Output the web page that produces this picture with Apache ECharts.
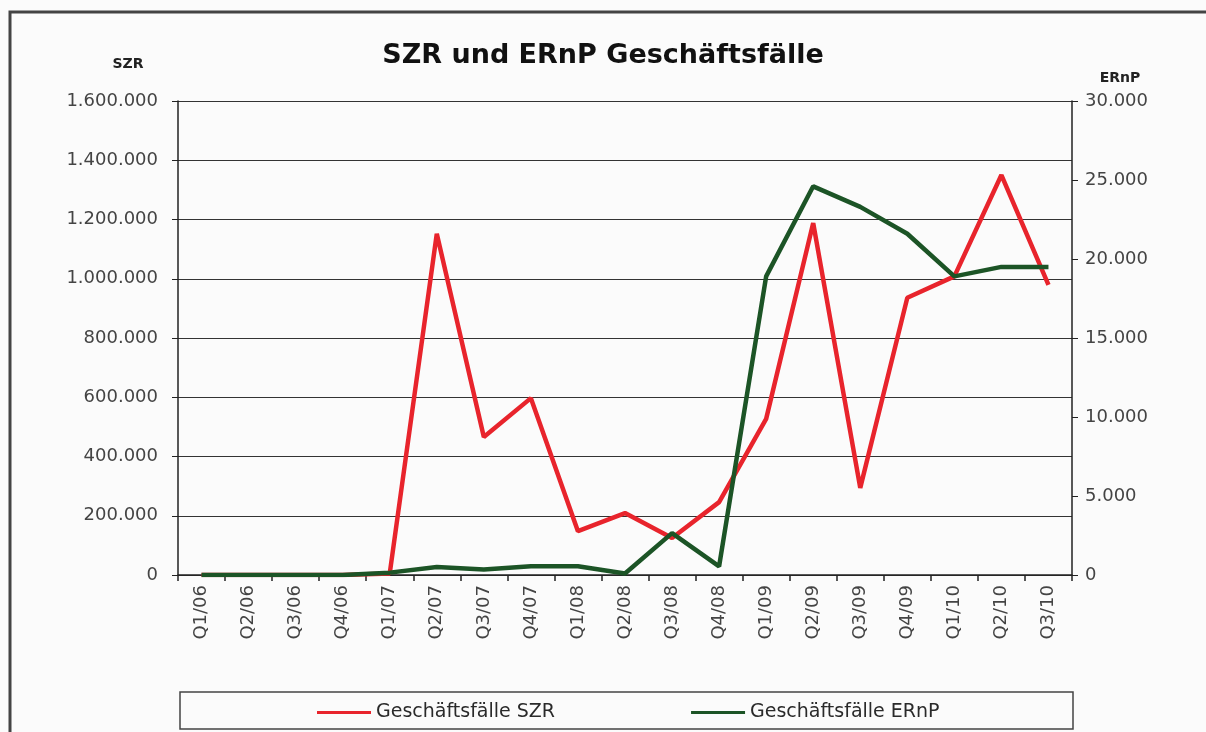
<!DOCTYPE html>
<html>
<head>
<meta charset="utf-8">
<title>SZR und ERnP Geschäftsfälle</title>
<script src="https://cdn.jsdelivr.net/npm/echarts@6/dist/echarts.min.js"></script>
<style>
  html, body { margin: 0; padding: 0; background: #fbfbfb; }
  #chart { width: 1206px; height: 732px; }
</style>
</head>
<body>
<div id="chart"></div>
<script>
// quarters
const categories = [
  "Q1/06", "Q2/06", "Q3/06", "Q4/06",
  "Q1/07", "Q2/07", "Q3/07", "Q4/07",
  "Q1/08", "Q2/08", "Q3/08", "Q4/08",
  "Q1/09", "Q2/09", "Q3/09", "Q4/09",
  "Q1/10", "Q2/10", "Q3/10"
];
// Geschäftsfälle SZR (left axis)
const szrValues = [
  0, 0, 0, 0,
  5000, 1152000, 466000, 597000,
  148000, 209000, 125000, 246000,
  527000, 1188000, 294000, 936000,
  1008000, 1350000, 979000
];
// Geschäftsfälle ERnP (right axis)
const ernpValues = [
  0, 0, 0, 0,
  150, 500, 350, 560,
  560, 100, 2650, 550,
  18900, 24600, 23300, 21600,
  18900, 19500, 19500
];
const szrTicks = { min: 0, max: 1600000, interval: 200000 };
const ernpTicks = { min: 0, max: 30000, interval: 5000 };

const fmt = (v) => String(v).replace(/\B(?=(\d{3})+(?!\d))/g, ".");
const labelFont = "DejaVu Sans, sans-serif";

const chart = echarts.init(document.getElementById("chart"));
chart.setOption({
  backgroundColor: "#fbfbfb",
  animation: false,
  title: {
    text: "SZR und ERnP Geschäftsfälle",
    left: 598,
    top: 37,
    textAlign: "center",
    textStyle: { fontFamily: labelFont, fontSize: 27, fontWeight: "bold", color: "#111" },
  },
  grid: { left: 178, right: 134, top: 101, bottom: 157 },
  legend: {
    data: ["Geschäftsfälle SZR", "Geschäftsfälle ERnP"],
    left: 312,
    top: 698,
    icon: "rect",
    itemWidth: 54,
    itemHeight: 3,
    itemGap: 136,
    itemTextGap: 3,
    textStyle: { fontFamily: labelFont, fontSize: 19, color: "#2a2a2a" },
  },
  xAxis: {
    type: "category",
    data: categories,
    boundaryGap: true,
    axisLine: { lineStyle: { color: "#222", width: 1.5 } },
    axisTick: { show: true, length: 6, lineStyle: { color: "#222", width: 1.5 } },
    axisLabel: {
      rotate: 90,
      margin: 10,
      interval: 0,
      fontFamily: labelFont,
      fontSize: 18,
      color: "#444",
    },
  },
  yAxis: [
    {
      type: "value",
      min: szrTicks.min,
      max: szrTicks.max,
      interval: szrTicks.interval,
      name: "SZR",
      nameLocation: "end",
      nameGap: 30,
      nameTextStyle: {
        fontFamily: labelFont, fontSize: 14, fontWeight: "bold", color: "#222",
        align: "center", padding: [0, 100, 0, 0],
      },
      axisLine: { show: true, lineStyle: { color: "#222", width: 1.5 } },
      axisTick: { show: true, length: 6, lineStyle: { color: "#222" } },
      axisLabel: { formatter: fmt, margin: 20, fontFamily: labelFont, fontSize: 18, color: "#444" },
      splitLine: { show: true, lineStyle: { color: "#333", width: 1.2 } },
    },
    {
      type: "value",
      min: ernpTicks.min,
      max: ernpTicks.max,
      interval: ernpTicks.interval,
      name: "ERnP",
      nameLocation: "end",
      nameGap: 16,
      nameTextStyle: {
        fontFamily: labelFont, fontSize: 14, fontWeight: "bold", color: "#222",
        align: "center", padding: [0, 0, 0, 96],
      },
      axisLine: { show: true, lineStyle: { color: "#222", width: 1.5 } },
      axisTick: { show: true, length: 6, lineStyle: { color: "#222" } },
      axisLabel: { formatter: fmt, margin: 13, fontFamily: labelFont, fontSize: 18, color: "#444" },
      splitLine: { show: false },
    },
  ],
  series: [
    {
      name: "Geschäftsfälle SZR",
      type: "line",
      yAxisIndex: 0,
      data: szrValues,
      showSymbol: false,
      symbol: "none",
      color: "#e8242c",
      lineStyle: { color: "#e8242c", width: 4.5 },
    },
    {
      name: "Geschäftsfälle ERnP",
      type: "line",
      yAxisIndex: 1,
      data: ernpValues,
      showSymbol: false,
      symbol: "none",
      color: "#1c5426",
      lineStyle: { color: "#1c5426", width: 4.5 },
    },
  ],
  graphic: [
    {
      type: "polyline",
      shape: { points: [[10, 740], [10, 12], [1210, 12]] },
      style: { stroke: "#444", lineWidth: 3, fill: null },
      silent: true,
    },
    {
      type: "rect",
      shape: { x: 180, y: 692, width: 893, height: 37 },
      style: { stroke: "#444", lineWidth: 1.5, fill: null },
      silent: true,
      z: -1,
    },
  ],
});
</script>
</body>
</html>
